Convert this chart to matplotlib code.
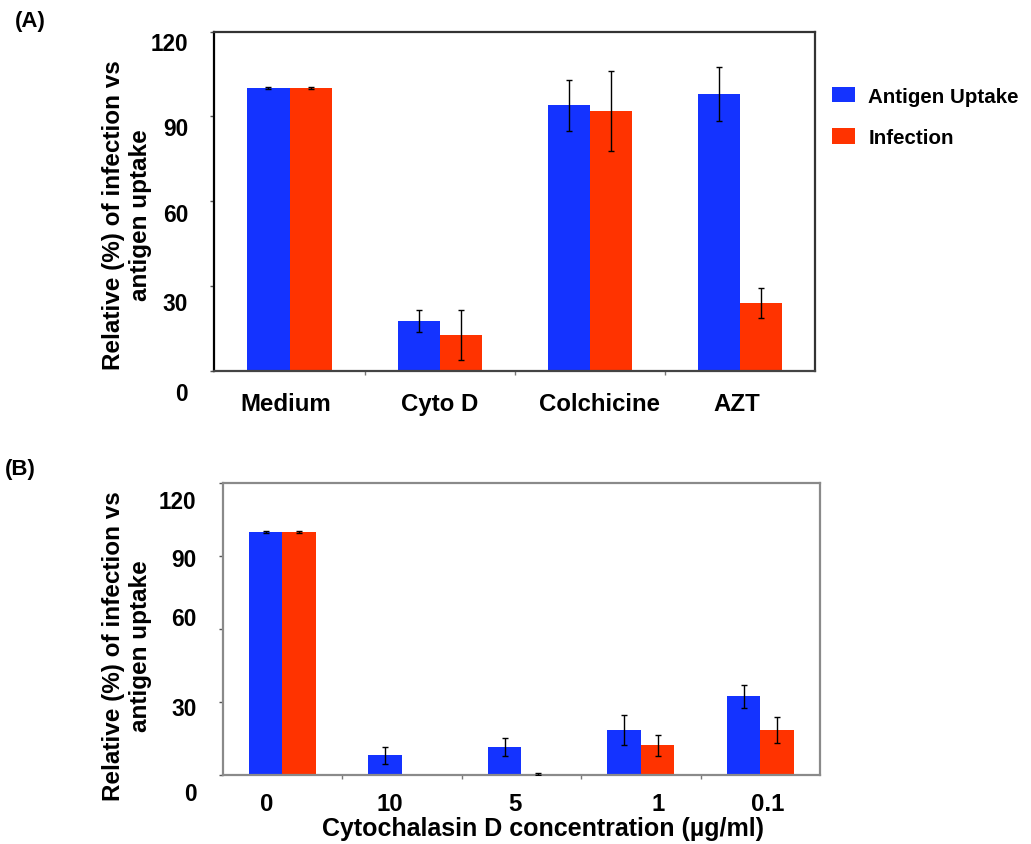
import numpy as np
import matplotlib
matplotlib.use("Agg")
import matplotlib.pyplot as plt
from matplotlib.transforms import ScaledTranslation

plt.rcParams['font.family'] = ['Liberation Sans', 'DejaVu Sans']
plt.rcParams['font.weight'] = 'bold'

# panel A data
cats_a = ["Medium", "Cyto D", "Colchicine", "AZT"]
uptake_a = [100, 17.7, 93.9, 97.8]
uptake_a_err = [0.3, 4.0, 9.0, 9.5]
infect_a = [100, 12.7, 91.9, 24.1]
infect_a_err = [0.3, 8.7, 14.3, 5.2]

# panel B data
cats_b = ["0", "10", "5", "1", "0.1"]
uptake_b = [100, 8.1, 11.7, 18.5, 32.4]
uptake_b_err = [0.3, 3.4, 3.7, 6.0, 4.8]
infect_b = [100, 0, 0.5, 12.3, 18.5]
infect_b_err = [0.3, np.nan, 0.5, 4.3, 5.4]

yticks = [0, 30, 60, 90, 120]

BLUE = "#1433ff"
RED = "#ff3300"
W = 0.28

fig = plt.figure(figsize=(10.31, 8.45), dpi=100)
axA = fig.add_axes([0.208, 0.5598, 0.5825, 0.4017])
axB = fig.add_axes([0.216, 0.0817, 0.5793, 0.345])


def draw(ax, cats, up, up_err, inf, inf_err, spine_col, xpad, xoffs, yoffs):
    x = np.arange(len(cats))
    ax.bar(x - W / 2, up, W, color=BLUE, label="Antigen Uptake", zorder=2)
    ax.bar(x + W / 2, inf, W, color=RED, label="Infection", zorder=2)
    ax.errorbar(x - W / 2, up, yerr=up_err, fmt="none", ecolor="black",
                elinewidth=1, capsize=2.2, capthick=1, zorder=3)
    ax.errorbar(x + W / 2, inf, yerr=inf_err, fmt="none", ecolor="black",
                elinewidth=1, capsize=2.2, capthick=1, zorder=3)
    ax.set_xlim(-0.5, len(cats) - 0.5)
    ax.set_ylim(0, 120)
    ax.set_yticks(yticks)
    ax.set_yticklabels([str(v) for v in yticks])
    ax.set_xticks(x)
    ax.set_xticklabels(cats)
    ax.set_xticks(np.arange(len(cats) - 1) + 0.5, minor=True)
    ax.tick_params(axis="x", which="major", length=0, pad=xpad, labelsize=17.3)
    ax.tick_params(axis="x", which="minor", length=3, width=1, color="#777777",
                   direction="out")
    ax.tick_params(axis="y", length=3, width=1, color="#555555", pad=16,
                   labelsize=16.3)
    for s in ax.spines.values():
        s.set_color(spine_col)
        s.set_linewidth(1.6)
    for lab, dx in zip(ax.get_xticklabels(), xoffs):
        lab.set_transform(lab.get_transform() +
                          ScaledTranslation(dx / 100, 0, fig.dpi_scale_trans))
    for lab, dy in zip(ax.get_yticklabels(), yoffs):
        lab.set_transform(lab.get_transform() +
                          ScaledTranslation(0, -dy / 100, fig.dpi_scale_trans))


draw(axA, cats_a, uptake_a, uptake_a_err, infect_a, infect_a_err, "#333333",
     15.5, [-4, 0, 10, -3], [19.7, 14.7, 11, 9.7, 9.4])
axA.spines["left"].set_color("black")
axA.spines["bottom"].set_color("#444444")

draw(axB, cats_b, uptake_b, uptake_b_err, infect_b, infect_b_err, "#8a8a8a",
     12.5, [-16, -12, -6, 17, 7], [15.7, 3.7, -13, 1, 16])

ylab = "Relative (%) of infection vs\nantigen uptake"
fig.text(127 / 1031, 1 - 215 / 845, ylab, rotation=90, ha="center", va="center",
         multialignment="center", fontsize=17.5, linespacing=1.25)
fig.text(127 / 1031, 1 - 646 / 845, ylab, rotation=90, ha="center", va="center",
         multialignment="center", fontsize=17.5, linespacing=1.25)

fig.text(543 / 1031, 1 - 829 / 845, "Cytochalasin D concentration (µg/ml)",
         ha="center", va="center", fontsize=18)

fig.text(15 / 1031, 1 - 22 / 845, "(A)", ha="left", va="center", fontsize=16)
fig.text(5 / 1031, 1 - 470 / 845, "(B)", ha="left", va="center", fontsize=16)

axA.legend(loc="center left", bbox_to_anchor=(824 / 1031, 1 - 118 / 845),
           bbox_transform=fig.transFigure, frameon=False, fontsize=14.8,
           handlelength=1.1, handleheight=0.8, handletextpad=0.65,
           labelspacing=1.1, borderaxespad=0)

fig.savefig("out.png", dpi=100)
